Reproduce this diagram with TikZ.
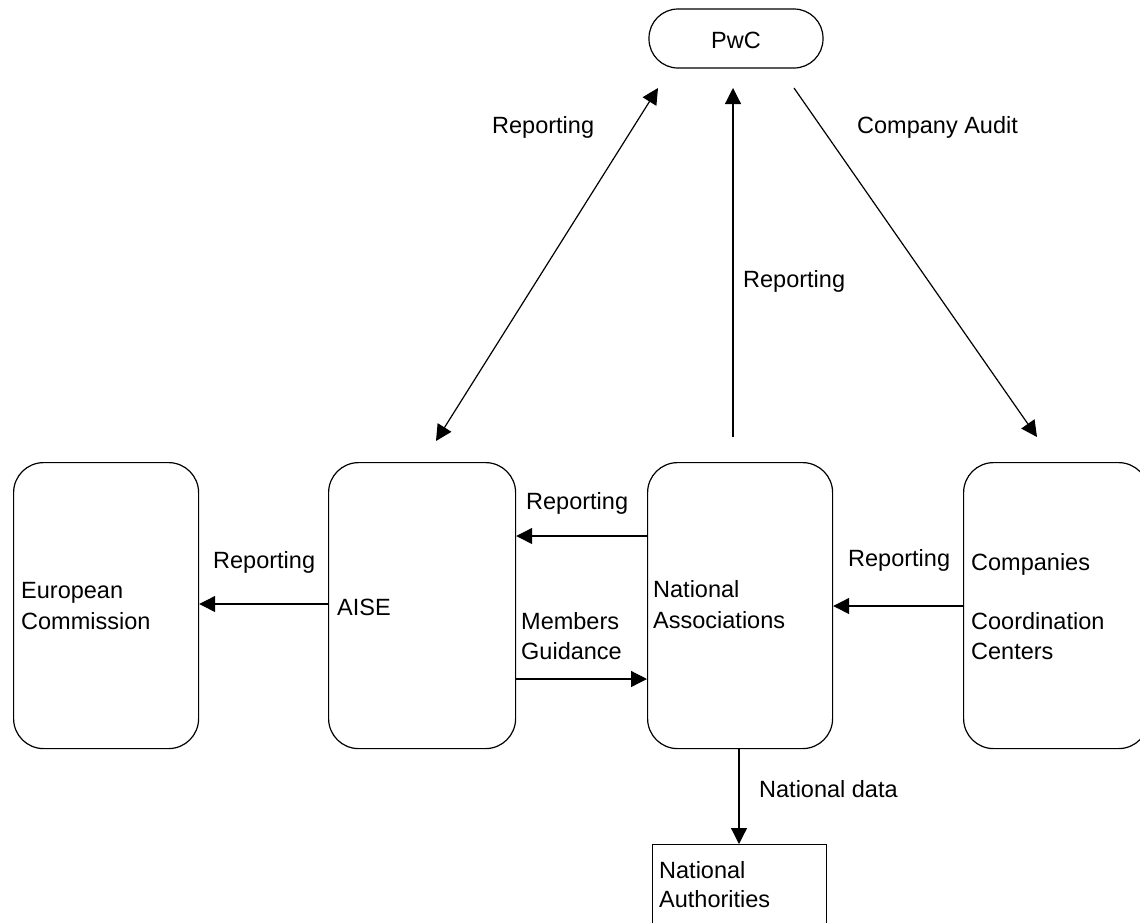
\documentclass[tikz,border=0pt]{standalone}
\usepackage{fontspec}
\setmainfont{Liberation Sans}
\usetikzlibrary{arrows.meta}
\begin{document}
\begin{tikzpicture}[x=1pt,y=-1pt,
  every node/.style={font=\fontsize{23.5}{29}\selectfont},
  bigbox/.style={draw,line width=1.2pt,rounded corners=30pt,minimum width=185pt,minimum height=286pt,inner sep=0pt,anchor=north west},
  lbl/.style={anchor=base west,inner sep=0pt},
  arr/.style={line width=1.2pt,-{Triangle[length=16pt,width=16pt]}},
  darr/.style={line width=1.2pt,{Triangle[length=16pt,width=16pt]}-{Triangle[length=16pt,width=16pt]}}]
\useasboundingbox (0,0) rectangle (1140,922);
% boxes
\node[draw,line width=1.2pt,rounded corners=29pt,minimum width=174pt,minimum height=59pt,inner sep=0pt] (pwc) at (736,38.5) {};
\node[lbl,anchor=base] (pwct) at (736,48) {PwC};
\node[bigbox] (ec) at (13,462) {};
\node[bigbox,minimum width=187pt] (aise) at (328,462) {};
\node[bigbox] (na) at (647,462) {};
\node[bigbox] (comp) at (963,462) {};
\node[draw,line width=1.2pt,minimum width=174pt,minimum height=110pt,inner sep=0pt,anchor=north west] (nauth) at (652,844) {};
% box texts
\node[lbl] (ec1) at (21,598) {European};
\node[lbl] (ec2) at (21,629) {Commission};
\node[lbl] (aiset) at (337,615) {AISE};
\node[lbl] (na1) at (653,597) {National};
\node[lbl] (na2) at (653,628) {Associations};
\node[lbl] (co1) at (971,570) {Companies};
\node[lbl] (co2) at (971,629) {Coordination};
\node[lbl] (co3) at (971,659) {Centers};
\node[lbl] (nt1) at (659,878) {National};
\node[lbl] (nt2) at (659,907) {Authorities};
% free arrow ends
\coordinate (p1) at (658,88);
\coordinate (a1) at (436,441);
\coordinate (p2) at (733,88);
\coordinate (n1) at (733,437);
\coordinate (p3) at (794,88);
\coordinate (c1) at (1037,437);
% connectors
\draw[darr] (p1) -- (a1);
\draw[arr] (n1) -- (p2);
\draw[arr] (p3) -- (c1);
\draw[arr] (na.west |- 0,536) -- (aise.east |- 0,536);
\draw[arr] (aise.west |- 0,604) -- (ec.east |- 0,604);
\draw[arr] (aise.east |- 0,679) -- (na.west |- 0,679);
\draw[arr] (comp.west |- 0,606) -- (na.east |- 0,606);
\draw[arr] (na.south -| 739,0) -- (nauth.north -| 739,0);
% labels
\node[lbl] (l1) at (492,133) {Reporting};
\node[lbl] (l2) at (857,133) {Company Audit};
\node[lbl] (l3) at (743,287) {Reporting};
\node[lbl] (l4) at (526,509) {Reporting};
\node[lbl] (l5) at (213,568) {Reporting};
\node[lbl] (l6) at (521,629) {Members};
\node[lbl] (l7) at (521,659) {Guidance};
\node[lbl] (l8) at (848,566) {Reporting};
\node[lbl] (l9) at (759,797) {National data};
\end{tikzpicture}
\end{document}
